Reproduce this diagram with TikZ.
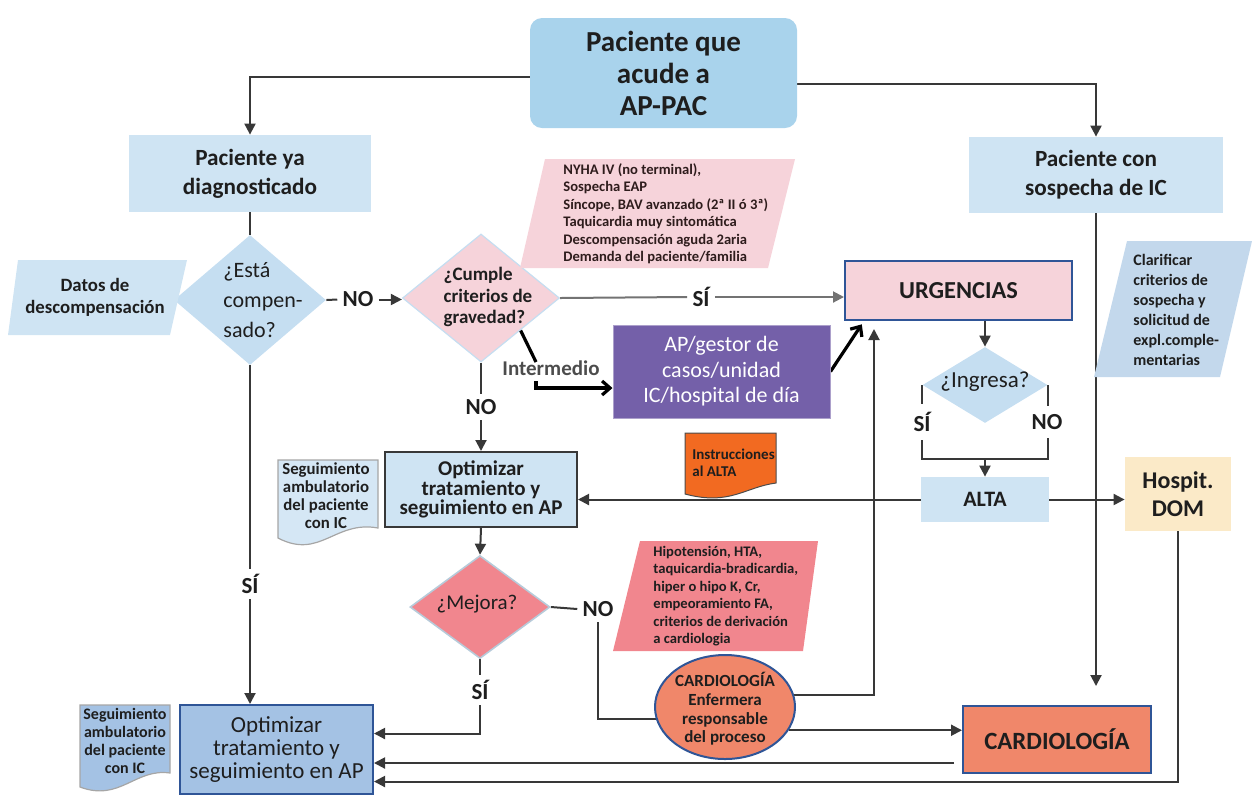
\documentclass[tikz,border=0pt]{standalone}
\usepackage{fontspec}
\setmainfont{Carlito}
\usetikzlibrary{shapes.geometric,arrows.meta,calc}
\pgfdeclarelayer{bg}
\pgfsetlayers{bg,main}
\definecolor{topblue}{HTML}{A9D3EC}
\definecolor{lblue}{HTML}{CFE4F3}
\definecolor{dblue}{HTML}{C5DEF1}
\definecolor{pinkl}{HTML}{F6D3DA}
\definecolor{purp}{HTML}{7460A9}
\definecolor{yel}{HTML}{FBEAC8}
\definecolor{cblue}{HTML}{C3D8EC}
\definecolor{mred}{HTML}{F1868E}
\definecolor{salmon}{HTML}{F0876A}
\definecolor{mblue}{HTML}{A4C2E4}
\definecolor{bordblue}{HTML}{2F5597}
\definecolor{orng}{HTML}{F26A21}
\definecolor{segb}{HTML}{D5E7F5}
\definecolor{lncol}{HTML}{383838}
\definecolor{txt}{HTML}{1E1E1E}
\definecolor{nyhatxt}{HTML}{2E1C1C}
\newcommand\myfs[2]{\fontsize{#1}{#2}\selectfont}
\tikzset{
  box/.style={inner sep=0pt, align=center, text=txt},
  txtnode/.style={inner sep=0pt, text=txt},
  lab/.style={inner sep=2.5pt, text=txt, font=\myfs{11.5}{13}\bfseries},
  ln/.style={draw=lncol, line width=1pt},
  arr/.style={draw=lncol, line width=1pt, -{Triangle[length=5.5pt,width=5.5pt]}},
  lng/.style={draw=gray!90!black, line width=1pt},
  arrg/.style={draw=gray!90!black, line width=1pt, -{Triangle[length=5.5pt,width=5.5pt]}},
  openarr/.style={draw=black, line width=1.6pt, -{Straight Barb[length=4pt,width=7pt]}},
  thk/.style={draw=black, line width=1.6pt},
}
\begin{document}
\begin{tikzpicture}[x=0.5pt,y=-0.5pt]
\useasboundingbox (0,0) rectangle (1252,800);

% ---------- top ----------
\node[box, rounded corners=6pt, fill=topblue, minimum width=133.5pt, minimum height=55pt,
      font=\myfs{14.5}{16}\bfseries] (top) at (663.5,73) {Paciente que\\acude a\\AP-PAC};
\node[box, fill=lblue, minimum width=121pt, minimum height=38.5pt,
      font=\myfs{11.6}{14.5}\bfseries] (ya) at (250,173.5) {Paciente ya\\diagnosticado};
\node[box, fill=lblue, minimum width=127pt, minimum height=38pt,
      font=\myfs{11.6}{14.5}\bfseries] (sos) at (1096,175) {Paciente con\\sospecha de IC};

% ---------- Esta compensado ----------
\node[diamond, fill=dblue, minimum width=76pt, minimum height=65pt, inner sep=0pt] (d1) at (250,300) {};
\node[txtnode, align=left, font=\myfs{11}{15}] (d1t) at (263,300) {¿Está\\compen-\\sado?};
\path[fill=lblue] (18,260) -- (187,260) -- (170,335) -- (8,335) -- cycle;
\node[txtnode, align=center, font=\myfs{9.4}{11}\bfseries] (datos) at (95,297) {Datos de\\descompensación};

% ---------- Cumple criterios ----------
\node[diamond, fill=pinkl, draw=dblue, line width=0.6pt, minimum width=78.5pt, minimum height=64pt, inner sep=0pt] (d2) at (481,298) {};
\node[txtnode, align=left, font=\myfs{9.5}{10.75}\bfseries] (d2t) at (488,297) {¿Cumple\\criterios de\\gravedad?};
\path[fill=pinkl] (545,159) -- (795,159) -- (768,268) -- (520,268) -- cycle;
\node[txtnode, anchor=west, align=left, text=nyhatxt, font=\myfs{7.3}{8.75}\bfseries] (nyha) at (563,213.5)
  {NYHA IV (no terminal),\\Sospecha EAP\\Síncope, BAV avanzado (2ª II ó 3ª)\\Taquicardia muy sintomática\\Descompensación aguda 2aria\\Demanda del paciente/familia};

% ---------- Urgencias ----------
\node[box, fill=pinkl, draw=bordblue, line width=1pt, minimum width=113.5pt, minimum height=29.5pt,
      font=\myfs{12.2}{14}\bfseries] (urg) at (958.5,290.5) {URGENCIAS};
\node[box, fill=purp, draw=purp!60, line width=0.5pt, minimum width=108.5pt, minimum height=46.5pt,
      text=white, font=\myfs{11}{12.75}] (purp) at (721.5,371.5) {AP/gestor de\\casos/unidad\\IC/hospital de día};
\node[diamond, fill=dblue, minimum width=62.5pt, minimum height=38pt, inner sep=0pt] (d3) at (985,385) {};
\node[txtnode, font=\myfs{11.5}{13}] (d3t) at (985,382) {¿Ingresa?};
\node[box, fill=lblue, minimum width=64pt, minimum height=22.5pt, font=\myfs{11}{13}\bfseries] (alta) at (985,499.5) {ALTA};
\node[box, fill=yel, minimum width=53pt, minimum height=37pt, font=\myfs{12}{14}\bfseries] (hosp) at (1178,494) {Hospit.\\DOM};
\path[fill=cblue] (1127,241) -- (1252,241) -- (1220,377) -- (1094,377) -- cycle;
\node[txtnode, anchor=west, align=left, font=\myfs{8}{10}\bfseries] (clar) at (1133,310)
  {Clarificar\\criterios de\\sospecha y\\solicitud de\\expl.comple-\\mentarias};

% ---------- middle ----------
\node[box, fill=lblue, draw=lncol, line width=1pt, minimum width=96pt, minimum height=37.5pt,
      font=\myfs{10.5}{9.7}\bfseries] (opt1) at (481,489.5) {Optimizar\\tratamiento y\\seguimiento en AP};
\path[fill=segb, draw=gray!70, line width=0.6pt] (278,460) -- (378,460) -- (378,528)
  .. controls (335,520) and (320,560) .. (278,538) -- cycle;
\node[txtnode, align=center, font=\myfs{8.4}{9}\bfseries] (seg1) at (326,496) {Seguimiento\\ambulatorio\\del paciente\\con IC};
\path[fill=orng, draw=gray!60!black, line width=0.5pt] (685,433) -- (776,433) -- (776,483)
  .. controls (745,487) and (730,506) .. (685,494) -- cycle;
\node[txtnode, anchor=west, align=left, font=\myfs{7.5}{8.5}\bfseries] (instr) at (692,463) {Instrucciones\\al ALTA};

% ---------- Mejora ----------
\node[diamond, fill=mred, draw=dblue!80!gray, line width=0.8pt, minimum width=70pt, minimum height=51.5pt, inner sep=0pt] (mej) at (480,607) {};
\node[txtnode, font=\myfs{10.5}{12}] (mejt) at (477,604) {¿Mejora?};
\path[fill=mred] (640,541) -- (818,541) -- (803,651) -- (613,651) -- cycle;
\node[txtnode, anchor=west, align=left, font=\myfs{7.3}{8.7}\bfseries] (hipo) at (653,596)
  {Hipotensión, HTA,\\taquicardia-bradicardia,\\hiper o hipo K, Cr,\\empeoramiento FA,\\criterios de derivación\\a cardiologia};
\node[ellipse, fill=salmon, draw=bordblue, line width=1pt, minimum width=70pt, minimum height=52pt, inner sep=0pt] (ell) at (725,707) {};
\node[txtnode, align=center, font=\myfs{8.5}{9.3}\bfseries] (ellt) at (725,709) {CARDIOLOGÍA\\Enfermera\\responsable\\del proceso};
\node[box, fill=salmon, draw=bordblue, line width=1pt, minimum width=94pt, minimum height=33.5pt,
      font=\myfs{12.4}{14}\bfseries] (card) at (1057,739.5) {CARDIOLOGÍA};

% ---------- bottom ----------
\node[box, fill=mblue, draw=bordblue, line width=1pt, minimum width=96.5pt, minimum height=44.5pt,
      font=\myfs{11.5}{11.5}] (opt2) at (276.5,749.5) {Optimizar\\tratamiento y\\seguimiento en AP};
\path[fill=mblue, draw=gray!70, line width=0.6pt] (80,705) -- (170,705) -- (170,773)
  .. controls (135,768) and (120,802) .. (80,787) -- cycle;
\node[txtnode, align=center, font=\myfs{8}{9}\bfseries] (seg2) at (125,741) {Seguimiento\\ambulatorio\\del paciente\\con IC};

% ---------- labels ----------
\node[lab] (no1) at (358,299.5) {NO};
\node[lab] (si1) at (701,297) {SÍ};
\node[lab, text=black!70, font=\myfs{10.5}{12}\bfseries] (inter) at (551,368) {Intermedio};
\node[lab] (no2) at (481,407) {NO};
\node[lab] (si3) at (250,584) {SÍ};
\node[lab, inner sep=4pt] (si2) at (922,422) {SÍ};
\node[lab, inner sep=4pt] (no4) at (1047,422) {NO};
\node[lab] (no3) at (598,609) {NO};
\node[lab] (si4) at (480,690) {SÍ};

\coordinate (i1) at (536,362);
\coordinate (i2) at (536,381);
\coordinate (j) at (985,459);
\coordinate (b1) at ([yshift=8pt]opt2.east);
\coordinate (b2) at ([yshift=-6.75pt]opt2.east);
\coordinate (b3) at ([yshift=-16pt]opt2.east);
\coordinate (b2s) at ($(b2 -| card.west)+(-8,0)$);

% ---------- connectors ----------
\begin{pgfonlayer}{bg}
\draw[arr] ([yshift=-2pt]top.west) -| (ya.north);
\draw[arr] ([yshift=-5.5pt]top.east) -| (sos.north);
\draw[ln] (ya.south) -- (d1.north);
\draw[ln] (d1.east) -- (no1.west);
\draw[arr] (no1.east) -- (no1.east -| d2.west);
\draw[lng] (d2.east) -- (si1.west);
\draw[arrg] (si1.east) -- (si1.east -| urg.west);
\draw[thk] (d2.south east) -- (i1);
\draw[openarr] (i2) |- ([yshift=-8.25pt]purp.west);
\draw[openarr, shorten >=2pt] (purp.east) -- ([xshift=10pt]urg.south west);
\draw[arr, shorten >=4pt] (ell.10) -| ([xshift=15pt]urg.south west);
\draw[arr] (d3.north |- urg.south) -- (d3.north);
\draw[ln] (d3.west) -- (d3.west |- si2.north);
\draw[ln] (d3.west |- si2.south) |- (j);
\draw[ln] (d3.east) -- (d3.east |- no4.north);
\draw[ln] (d3.east |- no4.south) |- (j);
\draw[arr] (j) -- (alta.north);
\draw[arr] (alta.west) -- (alta.west -| opt1.east);
\draw[arr] (alta.east) -- (alta.east -| hosp.west);
\draw[arr, shorten >=9.5pt] (sos.south) -- (sos.south |- card.north);
\draw[arr] (hosp.south) |- (b3);
\draw[arr] (b2s) -- (b2);
\draw[arr] (ell.-20) -- (ell.-20 -| card.west);
\draw[ln] (mej.east) -- (no3.west);
\draw[ln] (no3.south) |- (ell.190);
\draw[ln] (mej.south) -- (si4.north);
\draw[arr] (si4.south) |- (b1);
\draw[arr] (opt1.south) -- (mej.north);
\draw[ln] (d2.south) -- (no2.north);
\draw[arr] (no2.south) -- (opt1.north);
\draw[ln] (d1.south) -- (si3.north);
\draw[arr] (si3.south) -- (si3.south |- opt2.north);
\end{pgfonlayer}
\end{tikzpicture}
\end{document}
